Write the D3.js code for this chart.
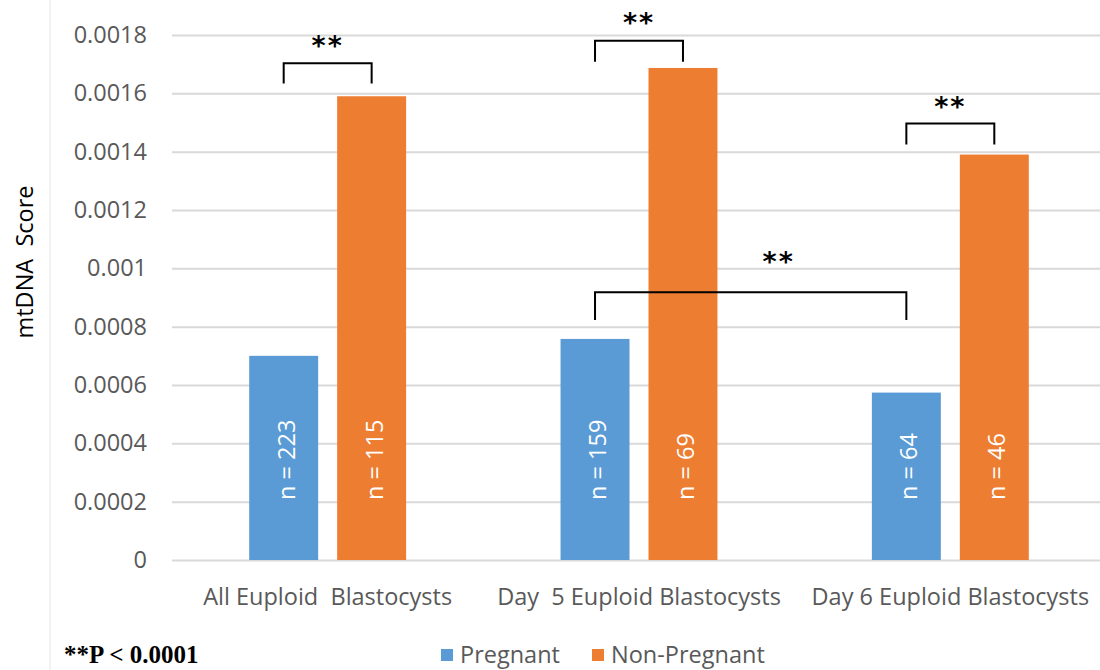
<!DOCTYPE html>
<html>
<head>
<meta charset="utf-8">
<script src="https://cdn.jsdelivr.net/npm/d3@7"></script>
<style>
  body { margin: 0; background: #fff; }
  svg { display: block; }
</style>
</head>
<body>
<svg id="chart"></svg>
<script>
// chart values
const categories = ["All Euploid  Blastocysts", "Day  5 Euploid Blastocysts", "Day 6 Euploid Blastocysts"];
const seriesNames = ["Pregnant", "Non-Pregnant"];
const pregnant = [0.0007, 0.000758, 0.000574];
const nonPregnant = [0.00159, 0.001687, 0.00139];
const pregnantN = ["n = 223", "n = 159", "n = 64"];
const nonPregnantN = ["n = 115", "n = 69", "n = 46"];
const yTicks = [0, 0.0002, 0.0004, 0.0006, 0.0008, 0.001, 0.0012, 0.0014, 0.0016, 0.0018];
const yTickLabels = ["0", "0.0002", "0.0004", "0.0006", "0.0008", "0.001", "0.0012", "0.0014", "0.0016", "0.0018"];
// significance brackets: [category, series] at each end, top/bottom levels, star level
const brackets = [
  { from: [0, 0], to: [0, 1], top: 0.001703, bottom: 0.001634, star: 0.00178, at: 0.5 },
  { from: [1, 0], to: [1, 1], top: 0.00178, bottom: 0.001708, star: 0.001858, at: 0.5 },
  { from: [2, 0], to: [2, 1], top: 0.001497, bottom: 0.001425, star: 0.00157, at: 0.5 },
  { from: [1, 0], to: [2, 0], top: 0.000918, bottom: 0.000823, star: 0.001039, at: 0.59 }
];
const footnote = "**P < 0.0001";
const yTitle = "mtDNA  Score";

const width = 1100;
const height = 670;
const colors = ["#5B9BD5", "#ED7D31"];
const textGrey = "#595959";
const font = "Open Sans, Lato, sans-serif";

const svg = d3.select("#chart").attr("width", width).attr("height", height);

const x0 = d3.scaleBand().domain(categories).range([172, 1106])
  .paddingInner(0.496).paddingOuter(0.248);
const x1 = d3.scaleBand().domain(seriesNames).range([0, x0.bandwidth()]).paddingInner(0.216);
const y = d3.scaleLinear().domain([0, 0.0018]).range([560, 35]);

const values = [pregnant, nonPregnant];
const labels = [pregnantN, nonPregnantN];
const rows = [];
categories.forEach((c, i) => {
  seriesNames.forEach((s, j) => {
    rows.push({ cat: c, series: s, j, value: values[j][i], label: labels[j][i] });
  });
});
const centre = ([ci, sj]) => x0(categories[ci]) + x1(seriesNames[sj]) + x1.bandwidth() / 2;

// faint frame line at left
svg.append("line")
  .attr("x1", 50).attr("x2", 50).attr("y1", 0).attr("y2", height)
  .attr("stroke", "#e6e6e6").attr("stroke-width", 1);

// y axis with gridlines
const yAxis = svg.append("g")
  .attr("transform", `translate(172,0)`)
  .call(d3.axisLeft(y).tickValues(yTicks).tickSize(-934)
    .tickFormat((d, i) => yTickLabels[i]).tickPadding(25));
yAxis.select(".domain").remove();
yAxis.selectAll(".tick line").attr("stroke", "#d9d9d9").attr("stroke-width", 2);
yAxis.selectAll(".tick text")
  .attr("fill", textGrey).attr("font-family", font).attr("font-size", 23.5);

// bars
svg.append("g")
  .selectAll("rect")
  .data(rows)
  .join("rect")
  .attr("x", d => x0(d.cat) + x1(d.series))
  .attr("y", d => y(d.value))
  .attr("width", x1.bandwidth())
  .attr("height", d => y(0) - y(d.value))
  .attr("fill", d => colors[d.j]);

// n labels inside bars
svg.append("g")
  .selectAll("text")
  .data(rows)
  .join("text")
  .attr("transform", d => `translate(${x0(d.cat) + x1(d.series) + x1.bandwidth() / 2 + 11},${y(0) - 60}) rotate(-90)`)
  .attr("fill", "#fff")
  .attr("font-family", font)
  .attr("font-size", 23.5)
  .text(d => d.label);

// category labels
svg.append("g")
  .selectAll("text")
  .data(categories)
  .join("text")
  .attr("x", d => x0(d) + x0.bandwidth() / 2)
  .attr("y", 605)
  .attr("text-anchor", "middle")
  .attr("fill", textGrey)
  .attr("font-family", font)
  .attr("font-size", 23.5)
  .style("white-space", "pre")
  .text(d => d);

// brackets
const bg = svg.append("g");
brackets.forEach(b => {
  const xa = centre(b.from);
  const xb = centre(b.to);
  bg.append("path")
    .attr("d", `M${xa},${y(b.bottom)}V${y(b.top)}H${xb}V${y(b.bottom)}`)
    .attr("fill", "none")
    .attr("stroke", "#000")
    .attr("stroke-width", 2);
  bg.append("text")
    .attr("x", xa + (xb - xa) * b.at)
    .attr("y", y(b.star) + 14)
    .attr("text-anchor", "middle")
    .attr("font-family", "DejaVu Sans, sans-serif")
    .attr("font-weight", "bold")
    .attr("font-size", 27)
    .attr("letter-spacing", 2)
    .attr("fill", "#000")
    .text("**");
});

// y title
svg.append("text")
  .attr("transform", "translate(33,262) rotate(-90)")
  .attr("text-anchor", "middle")
  .attr("font-family", font)
  .attr("font-size", 23.5)
  .attr("fill", "#000")
  .style("white-space", "pre")
  .text(yTitle);

// footnote
svg.append("text")
  .attr("x", 64).attr("y", 663)
  .attr("font-family", "Liberation Serif, serif")
  .attr("font-weight", "bold")
  .attr("font-size", 25)
  .attr("fill", "#000")
  .text(footnote);

// legend
const legendX = [441, 592];
const legend = svg.append("g")
  .selectAll("g")
  .data(seriesNames)
  .join("g")
  .attr("transform", (d, i) => `translate(${legendX[i]},655)`);
legend.append("rect")
  .attr("x", 0).attr("y", -6).attr("width", 12).attr("height", 12)
  .attr("fill", (d, i) => colors[i]);
legend.append("text")
  .attr("x", 19).attr("y", 8)
  .attr("fill", textGrey)
  .attr("font-family", font)
  .attr("font-size", 23.5)
  .text(d => d);
</script>
</body>
</html>
